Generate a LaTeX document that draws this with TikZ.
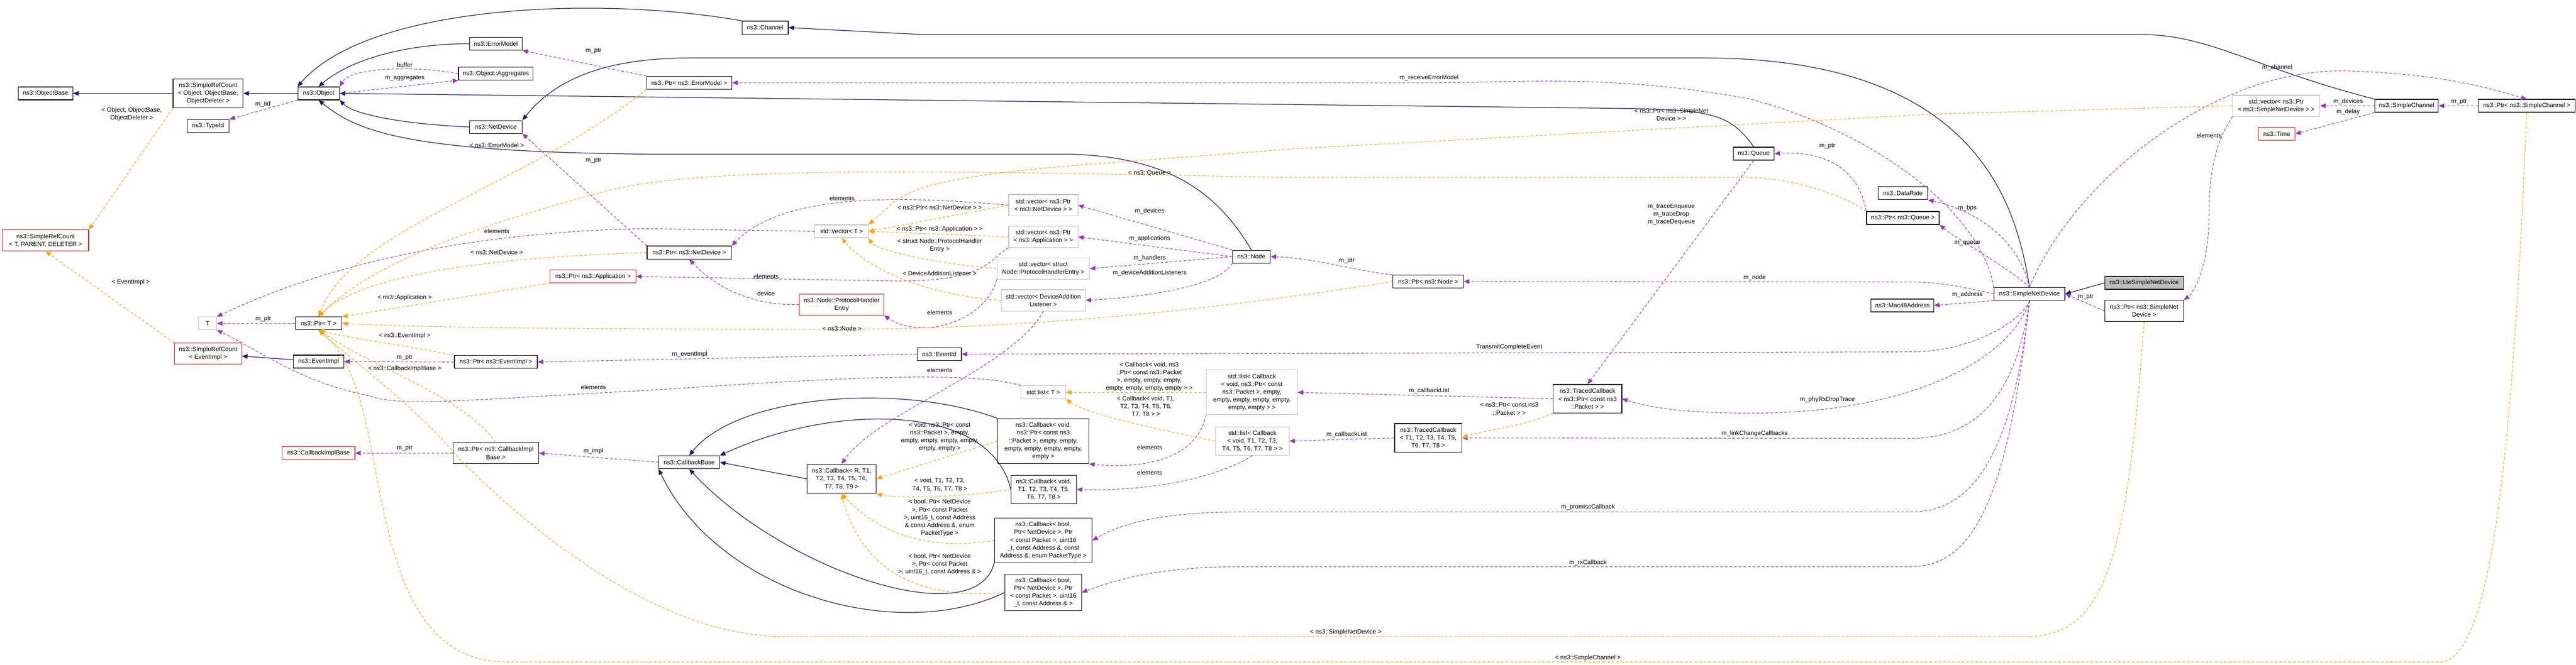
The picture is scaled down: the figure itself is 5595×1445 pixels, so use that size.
\documentclass[tikz,border=0pt]{standalone}
\usepackage{fontspec}
\setmainfont{Liberation Sans}
\usetikzlibrary{arrows.meta}
\definecolor{inhc}{HTML}{191970}
\definecolor{usec}{HTML}{9A32CD}
\definecolor{tplc}{HTML}{FFA500}
\definecolor{grayb}{HTML}{BFBFBF}
\begin{document}
\begin{tikzpicture}[x=0.5pt,y=-0.5pt,
  every node/.style={font=\fontsize{6.7}{8.5}\selectfont,inner sep=1pt,align=center},
  sz/.style 2 args={minimum width=#1*0.5pt,minimum height=#2*0.5pt},
  cls/.style={draw=black,line width=0.7pt},
  grb/.style={draw=grayb,line width=0.6pt},
  redb/.style={draw=red,line width=0.6pt},
  lbl/.style={inner sep=0pt},
  tip/.style={-{Triangle[length=6pt,width=5pt]}},
  inh/.style={tip,draw=inhc,line width=0.7pt},
  use/.style={tip,draw=usec,line width=0.6pt,dash pattern=on 3pt off 2pt},
  tpl/.style={tip,draw=tplc,line width=0.6pt,dash pattern=on 3pt off 2pt}]
\useasboundingbox[fill=white] (0,0) rectangle (5595,1445);
% nodes
\node[cls,sz={118}{28}] (ObjectBase) at (99,203) {ns3::ObjectBase};
\node[cls,sz={152}{63}] (SRCObj) at (452,203) {ns3::SimpleRefCount\\< Object, ObjectBase,\\ObjectDeleter >};
\node[cls,sz={90}{28}] (Object) at (692,203) {ns3::Object};
\node[cls,sz={91}{28}] (TypeId) at (452,274) {ns3::TypeId};
\node[cls,sz={114}{28}] (ErrorModel) at (1077,95) {ns3::ErrorModel};
\node[cls,sz={162}{28}] (Aggregates) at (1077,160) {ns3::Object::Aggregates};
\node[cls,sz={114}{28}] (NetDevice) at (1077,276) {ns3::NetDevice};
\node[redb,sz={187}{46}] (SRCT) at (99,523) {ns3::SimpleRefCount\\< T, PARENT, DELETER >};
\node[redb,sz={186}{28}] (PtrApp) at (1288,601) {ns3::Ptr< ns3::Application >};
\node[grb,sz={39}{28}] (T) at (451,703) {T};
\node[cls,sz={101}{28}] (PtrT) at (692,703) {ns3::Ptr< T >};
\node[cls,sz={100}{28}] (Channel) at (1662,60) {ns3::Channel};
\node[cls,sz={185}{28}] (PtrErr) at (1497,180) {ns3::Ptr< ns3::ErrorModel >};
\node[cls,sz={183}{28}] (PtrND) at (1497,549) {ns3::Ptr< ns3::NetDevice >};
\node[grb,sz={116}{28}] (VecT) at (1828,503) {std::vector< T >};
\node[grb,sz={150}{46}] (VecND) at (2266,446) {std::vector< ns3::Ptr\\< ns3::NetDevice > >};
\node[grb,sz={150}{46}] (VecApp) at (2266,515) {std::vector< ns3::Ptr\\< ns3::Application > >};
\node[grb,sz={201}{46}] (VecPHE) at (2266,584) {std::vector< struct\\Node::ProtocolHandlerEntry >};
\node[grb,sz={183}{46}] (VecDAL) at (2266,653) {std::vector< DeviceAddition\\Listener >};
\node[cls,sz={82}{28}] (Node) at (2718,558) {ns3::Node};
\node[redb,sz={183}{46}] (PHE) at (1828,662) {ns3::Node::ProtocolHandler\\Entry};
\node[cls,sz={89}{28}] (Queue) at (3809,334) {ns3::Queue};
\node[cls,sz={108}{28}] (DataRate) at (4133,420) {ns3::DataRate};
\node[cls,sz={158}{28}] (PtrQueue) at (4133,474) {ns3::Ptr< ns3::Queue >};
\node[cls,sz={153}{28}] (PtrNode) at (3102,612) {ns3::Ptr< ns3::Node >};
\node[cls,sz={136}{28}] (Mac48) at (4132,664) {ns3::Mac48Address};
\node[grb,sz={189}{46}] (VecSND) at (4944,230) {std::vector< ns3::Ptr\\< ns3::SimpleNetDevice > >};
\node[cls,sz={138}{28}] (SimpleChannel) at (5227,230) {ns3::SimpleChannel};
\node[cls,sz={210}{28}] (PtrSC) at (5488,230) {ns3::Ptr< ns3::SimpleChannel >};
\node[redb,sz={80}{28}] (Time) at (4945,291) {ns3::Time};
\node[cls,fill=grayb,sz={171}{28}] (Lte) at (4657,615) {ns3::LteSimpleNetDevice};
\node[cls,sz={154}{28}] (SND) at (4408,639) {ns3::SimpleNetDevice};
\node[cls,sz={171}{46}] (PtrSND) at (4657,676) {ns3::Ptr< ns3::SimpleNet\\Device >};
\node[redb,sz={146}{46}] (SRCEv) at (452,769) {ns3::SimpleRefCount\\< EventImpl >};
\node[cls,sz={110}{28}] (EventImpl) at (692,786) {ns3::EventImpl};
\node[cls,sz={180}{28}] (PtrEv) at (1077,787) {ns3::Ptr< ns3::EventImpl >};
\node[redb,sz={158}{28}] (CIB) at (692,985) {ns3::CallbackImplBase};
\node[cls,sz={186}{46}] (PtrCIB) at (1077,985) {ns3::Ptr< ns3::CallbackImpl\\Base >};
\node[cls,sz={96}{28}] (EventId) at (2040,770) {ns3::EventId};
\node[grb,sz={97}{28}] (ListT) at (2266,853) {std::list< T >};
\node[grb,sz={198}{97}] (ListCbP) at (2719,853) {std::list< Callback\\< void, ns3::Ptr< const\\ns3::Packet >, empty,\\empty, empty, empty, empty,\\empty, empty > >};
\node[grb,sz={160}{62}] (ListCbT) at (2720,959) {std::list< Callback\\< void, T1, T2, T3,\\T4, T5, T6, T7, T8 > >};
\node[cls,sz={132}{28}] (CBase) at (1497,1005) {ns3::CallbackBase};
\node[cls,sz={150}{63}] (CbR) at (1828,1041) {ns3::Callback< R, T1,\\T2, T3, T4, T5, T6,\\T7, T8, T9 >};
\node[cls,sz={198}{98}] (CbVP) at (2266,959) {ns3::Callback< void,\\ns3::Ptr< const ns3\\::Packet >, empty, empty,\\empty, empty, empty, empty,\\empty >};
\node[cls,sz={142}{62}] (CbVT) at (2267,1064) {ns3::Callback< void,\\T1, T2, T3, T4, T5,\\T6, T7, T8 >};
\node[cls,sz={212}{97}] (CbB1) at (2266,1175) {ns3::Callback< bool,\\Ptr< NetDevice >, Ptr\\< const Packet >, uint16\\\_t, const Address \&, const\\Address \&, enum PacketType >};
\node[cls,sz={166}{80}] (CbB2) at (2266,1288) {ns3::Callback< bool,\\Ptr< NetDevice >, Ptr\\< const Packet >, uint16\\\_t, const Address \& >};
\node[cls,sz={149}{62}] (TC1) at (3448,867) {ns3::TracedCallback\\< ns3::Ptr< const ns3\\::Packet > >};
\node[cls,sz={146}{62}] (TC2) at (3102,952) {ns3::TracedCallback\\< T1, T2, T3, T4, T5,\\T6, T7, T8 >};
% inheritance
\draw[inh] (SRCObj) -- (ObjectBase);
\draw[inh] (Object) -- (SRCObj);
\draw[inh] (ErrorModel.west) .. controls (880,95) and (760,130) .. (Object.north);
\draw[inh] (NetDevice.west) .. controls (880,270) and (770,250) .. (Object.south east);
\draw[inh] (Channel.north west) .. controls (1300,-10) and (800,10) .. (Object.north west);
\draw[inh] (Queue.north) .. controls (3760,250) and (3720,240) .. (3550,236) -- (Object.east);
\draw[inh] (Node.north) .. controls (2650,430) and (2550,335) .. (2300,335) -- (1400,335) .. controls (900,330) and (780,290) .. (Object.south);
\draw[inh] (SimpleChannel.north west) .. controls (4900,150) and (4800,75) .. (4650,75) -- (2000,75) -- (Channel.east);
\draw[inh] (SND.north) .. controls (4380,450) and (4300,126) .. (3700,126) -- (1500,126) .. controls (1300,126) and (1200,180) .. (NetDevice.north east);
\draw[inh] (Lte.west) -- (SND.east);
\draw[inh] (EventImpl) -- (SRCEv);
\draw[inh] (CbR.west) -- (CBase.east);
\draw[inh] (CbVP.north west) .. controls (1950,830) and (1600,860) .. (CBase.north);
\draw[inh] (CbVT.west) .. controls (2150,870) and (1800,880) .. (CBase.north east);
\draw[inh] (CbB1.south west) .. controls (2120,1380) and (1700,1240) .. (CBase.south);
\draw[inh] (CbB2.west) .. controls (1950,1400) and (1560,1290) .. (CBase.south west);
% usage
\draw[use] (Object.south west) -- (TypeId.north east);
\draw[use] (Aggregates.west) .. controls (880,140) and (760,150) .. (Object.north east);
\draw[use] (Object.east) -- (Aggregates.south west);
\draw[use] (PtrErr.north west) -- (ErrorModel.south east);
\draw[use] (PtrND.north west) -- (NetDevice.south east);
\draw[use] (SND.north west) .. controls (4300,450) and (4050,280) .. (3800,215) .. controls (3500,160) and (3300,180) .. (3100,180) -- (PtrErr.east);
\draw[use] (VecND.west) .. controls (1950,425) and (1700,420) .. (PtrND.north east);
\draw[use] (PHE.west) .. controls (1640,665) and (1560,630) .. (PtrND.south);
\draw[use] (Node.north west) -- (VecND.east);
\draw[use] (Node.west) -- (VecApp.east);
\draw[use] (Node.west) -- (VecPHE.east);
\draw[use] (Node.south west) .. controls (2650,620) and (2500,645) .. (VecDAL.east);
\draw[use] (VecApp.south west) .. controls (2150,560) and (2150,611) .. (1950,611) -- (PtrApp.east);
\draw[use] (VecPHE.south west) .. controls (2140,700) and (2000,740) .. (PHE.south east);
\draw[use] (VecDAL.south) .. controls (2200,800) and (1900,900) .. (CbR.north);
\draw[use] (ListT.north west) .. controls (2100,800) and (1700,830) .. (1400,849) .. controls (1000,870) and (870,885) .. (800,860) .. controls (650,830) and (560,760) .. (T.south east);
\draw[use] (VecT.west) -- (1400,497) .. controls (1000,505) and (700,580) .. (T.north east);
\draw[use] (PtrT.west) -- (T.east);
\draw[use] (PtrEv.west) -- (EventImpl.east);
\draw[use] (EventId.west) -- (PtrEv.east);
\draw[use] (SND.south) .. controls (4390,700) and (4280,765) .. (4150,765) -- (EventId.east);
\draw[use] (PtrCIB.west) -- (CIB.east);
\draw[use] (CBase.west) -- (PtrCIB.east);
\draw[use] (ListCbP.south west) .. controls (2600,1000) and (2480,1020) .. (CbVP.south east);
\draw[use] (ListCbT.south) .. controls (2640,1040) and (2500,1068) .. (CbVT.east);
\draw[use] (TC1.west) -- (ListCbP.east);
\draw[use] (TC2.west) -- (ListCbT.east);
\draw[use] (Queue.south) -- (TC1.north);
\draw[use] (SND.south) .. controls (4370,780) and (4150,900) .. (3800,898) .. controls (3650,898) and (3580,885) .. (TC1.east);
\draw[use] (SND.south) .. controls (4380,850) and (4300,953) .. (4150,953) -- (TC2.east);
\draw[use] (SND.south) .. controls (4370,1000) and (4280,1113) .. (4150,1113) -- (2700,1113) .. controls (2550,1113) and (2450,1130) .. (CbB1.east);
\draw[use] (SND.south) .. controls (4360,1100) and (4280,1232) .. (4150,1232) -- (2700,1232) .. controls (2550,1232) and (2450,1250) .. (CbB2.east);
\draw[use] (SND.west) .. controls (4250,620) and (4200,613) .. (4150,613) -- (PtrNode.east);
\draw[use] (PtrNode.north west) .. controls (2950,590) and (2850,560) .. (Node.east);
\draw[use] (SND.south west) -- (Mac48.east);
\draw[use] (SND.north) .. controls (4360,580) and (4250,520) .. (PtrQueue.south east);
\draw[use] (SND.north) .. controls (4380,500) and (4260,450) .. (DataRate.south east);
\draw[use] (PtrQueue.north west) .. controls (4040,380) and (3980,327) .. (Queue.east);
\draw[use] (SND.north) .. controls (4500,400) and (4800,150) .. (5093,154) .. controls (5300,160) and (5400,190) .. (PtrSC.north);
\draw[use] (PtrSC.west) -- (SimpleChannel.east);
\draw[use] (SimpleChannel.west) -- (VecSND.east);
\draw[use] (SimpleChannel.south west) -- (Time.east);
\draw[use] (VecSND.south west) .. controls (4790,340) and (4800,450) .. (4797,500) .. controls (4790,600) and (4760,640) .. (PtrSND.north east);
\draw[use] (PtrSND.west) -- (SND.east);
% templates
\draw[tpl] (SRCObj.south west) -- (SRCT.north east);
\draw[tpl] (SRCEv.north west) -- (SRCT.south);
\draw[tpl] (PtrErr.south west) .. controls (1150,400) and (760,500) .. (PtrT.north);
\draw[tpl] (PtrND.west) .. controls (1050,560) and (780,600) .. (PtrT.north);
\draw[tpl] (PtrApp.south west) -- (PtrT.north east);
\draw[tpl] (PtrEv.north west) .. controls (880,750) and (780,740) .. (PtrT.south);
\draw[tpl] (PtrCIB.north) .. controls (1000,860) and (850,820) .. (PtrT.south);
\draw[tpl] (PtrQueue.north west) .. controls (4000,420) and (3880,386) .. (3800,386) -- (2800,386) .. controls (2000,370) and (1500,360) .. (1300,420) .. controls (1000,500) and (800,580) .. (PtrT.north);
\draw[tpl] (PtrNode.west) .. controls (2600,680) and (2200,716) .. (1800,716) .. controls (1300,716) and (900,712) .. (PtrT.east);
\draw[tpl] (PtrSND.south) .. controls (4620,1200) and (4580,1384) .. (4400,1384) -- (1700,1384) .. controls (1500,1384) and (1250,1250) .. (1000,1000) .. controls (900,880) and (760,780) .. (PtrT.south);
\draw[tpl] (PtrSC.south) .. controls (5460,900) and (5420,1439) .. (5300,1439) -- (1100,1439) .. controls (850,1439) and (840,1100) .. (790,900) .. controls (760,780) and (720,740) .. (PtrT.south);
\draw[tpl] (VecND.west) -- (VecT.east);
\draw[tpl] (VecApp.west) -- (VecT.east);
\draw[tpl] (VecPHE.west) .. controls (2000,570) and (1900,540) .. (VecT.south east);
\draw[tpl] (VecDAL.west) .. controls (2000,640) and (1880,580) .. (VecT.south);
\draw[tpl] (VecSND.west) -- (4200,248) -- (2800,324) .. controls (2300,365) and (2000,370) .. (1930,450) -- (VecT.north east);
\draw[tpl] (ListCbP.west) -- (ListT.east);
\draw[tpl] (ListCbT.west) .. controls (2500,930) and (2360,900) .. (ListT.south east);
\draw[tpl] (CbVP.west) -- (CbR.east);
\draw[tpl] (CbVT.west) .. controls (2100,1080) and (1950,1085) .. (CbR.south east);
\draw[tpl] (CbB1.west) .. controls (2000,1200) and (1900,1150) .. (CbR.south);
\draw[tpl] (CbB2.west) .. controls (1950,1310) and (1860,1200) .. (CbR.south);
\draw[tpl] (TC1.south west) .. controls (3300,930) and (3220,935) .. (TC2.east);
% labels
\node[lbl] (l1) at (286,248) {< Object, ObjectBase,\\ObjectDeleter >};
\node[lbl] (l2) at (879,141) {buffer};
\node[lbl] (l3) at (879,170) {m\_aggregates};
\node[lbl] (l4) at (571,226) {m\_tid};
\node[lbl] (l5) at (1289,111) {m\_ptr};
\node[lbl] (l6) at (1079,316) {< ns3::ErrorModel >};
\node[lbl] (l7) at (1289,349) {m\_ptr};
\node[lbl] (l8) at (1079,503) {elements};
\node[lbl] (l9) at (1079,549) {< ns3::NetDevice >};
\node[lbl] (l10) at (284,614) {< EventImpl >};
\node[lbl] (l11) at (879,647) {< ns3::Application >};
\node[lbl] (l12) at (572,694) {m\_ptr};
\node[lbl] (l13) at (1829,431) {elements};
\node[lbl] (l14) at (2041,451) {< ns3::Ptr< ns3::NetDevice > >};
\node[lbl] (l15) at (2041,498) {< ns3::Ptr< ns3::Application > >};
\node[lbl] (l16) at (2041,534) {< struct Node::ProtocolHandler\\Entry >};
\node[lbl] (l17) at (2041,594) {< DeviceAdditionListener >};
\node[lbl] (l18) at (1664,601) {elements};
\node[lbl] (l19) at (1664,638) {device};
\node[lbl] (l20) at (2041,679) {elements};
\node[lbl] (l21) at (1829,714) {< ns3::Node >};
\node[lbl] (l22) at (2497,459) {m\_devices};
\node[lbl] (l23) at (2497,519) {m\_applications};
\node[lbl] (l24) at (2497,561) {m\_handlers};
\node[lbl] (l25) at (2497,594) {m\_deviceAdditionListeners};
\node[lbl] (l26) at (2497,377) {< ns3::Queue >};
\node[lbl] (l27) at (3104,169) {m\_receiveErrorModel};
\node[lbl] (l28) at (3630,249) {< ns3::Ptr< ns3::SimpleNet\\Device > >};
\node[lbl] (l29) at (3969,318) {m\_ptr};
\node[lbl] (l30) at (3630,466) {m\_traceEnqueue\\m\_traceDrop\\m\_traceDequeue};
\node[lbl] (l31) at (2925,567) {m\_ptr};
\node[lbl] (l32) at (3811,603) {m\_node};
\node[lbl] (l33) at (4946,147) {m\_channel};
\node[lbl] (l34) at (5100,221) {m\_devices};
\node[lbl] (l35) at (5100,243) {m\_delay};
\node[lbl] (l36) at (5341,221) {m\_ptr};
\node[lbl] (l37) at (4798,294) {elements};
\node[lbl] (l38) at (4273,453) {m\_bps};
\node[lbl] (l39) at (4273,529) {m\_queue};
\node[lbl] (l40) at (4273,640) {m\_address};
\node[lbl] (l41) at (4530,646) {m\_ptr};
\node[lbl] (l42) at (879,730) {< ns3::EventImpl >};
\node[lbl] (l43) at (879,778) {m\_ptr};
\node[lbl] (l44) at (879,802) {< ns3::CallbackImplBase >};
\node[lbl] (l45) at (1289,842) {elements};
\node[lbl] (l46) at (879,975) {m\_ptr};
\node[lbl] (l47) at (1289,981) {m\_impl};
\node[lbl] (l48) at (1498,770) {m\_eventImpl};
\node[lbl] (l49) at (2041,805) {elements};
\node[lbl] (l50) at (2496,819) {< Callback< void, ns3\\::Ptr< const ns3::Packet\\>, empty, empty, empty,\\empty, empty, empty, empty > >};
\node[lbl] (l51) at (2489,884) {< Callback< void, T1,\\T2, T3, T4, T5, T6,\\T7, T8 > >};
\node[lbl] (l52) at (2041,950) {< void, ns3::Ptr< const\\ns3::Packet >, empty,\\empty, empty, empty, empty,\\empty, empty >};
\node[lbl] (l53) at (2041,1054) {< void, T1, T2, T3,\\T4, T5, T6, T7, T8 >};
\node[lbl] (l54) at (2041,1126) {< bool, Ptr< NetDevice\\>, Ptr< const Packet\\>, uint16\_t, const Address\\\& const Address \&, enum\\PacketType >};
\node[lbl] (l55) at (2041,1227) {< bool, Ptr< NetDevice\\>, Ptr< const Packet\\>, uint16\_t, const Address \& >};
\node[lbl] (l56) at (2497,973) {elements};
\node[lbl] (l57) at (2497,1028) {elements};
\node[lbl] (l58) at (3278,755) {TransmitCompleteEvent};
\node[lbl] (l59) at (3104,850) {m\_callbackList};
\node[lbl] (l60) at (3278,889) {< ns3::Ptr< const ns3\\::Packet > >};
\node[lbl] (l61) at (2925,945) {m\_callbackList};
\node[lbl] (l62) at (3969,869) {m\_phyRxDropTrace};
\node[lbl] (l63) at (3811,943) {m\_linkChangeCallbacks};
\node[lbl] (l64) at (3449,1103) {m\_promiscCallback};
\node[lbl] (l65) at (3449,1223) {m\_rxCallback};
\node[lbl] (l66) at (2923,1375) {< ns3::SimpleNetDevice >};
\node[lbl] (l67) at (3449,1430) {< ns3::SimpleChannel >};
\end{tikzpicture}
\end{document}
